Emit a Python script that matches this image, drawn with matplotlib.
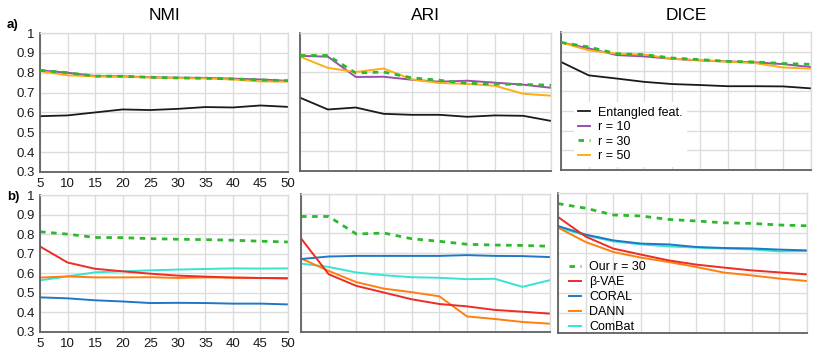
import matplotlib
matplotlib.use("Agg")
import matplotlib.pyplot as plt

plt.rcParams['font.family'] = ['Liberation Sans', 'DejaVu Sans']

x = [5, 10, 15, 20, 25, 30, 35, 40, 45, 50]

# a) ablation over r
nmi_ent = [0.581, 0.585, 0.600, 0.615, 0.612, 0.618, 0.627, 0.625, 0.635, 0.628]
nmi_r10 = [0.812, 0.800, 0.783, 0.782, 0.777, 0.775, 0.774, 0.770, 0.766, 0.759]
nmi_r30 = [0.812, 0.800, 0.783, 0.782, 0.777, 0.774, 0.772, 0.769, 0.764, 0.760]
nmi_r50 = [0.808, 0.787, 0.781, 0.780, 0.776, 0.773, 0.771, 0.766, 0.756, 0.755]

ari_ent = [0.672, 0.612, 0.622, 0.590, 0.585, 0.585, 0.575, 0.582, 0.580, 0.554]
ari_r10 = [0.884, 0.880, 0.777, 0.778, 0.763, 0.753, 0.758, 0.748, 0.738, 0.722]
ari_r30 = [0.886, 0.886, 0.797, 0.802, 0.773, 0.760, 0.745, 0.741, 0.739, 0.735]
ari_r50 = [0.880, 0.823, 0.802, 0.820, 0.765, 0.746, 0.742, 0.732, 0.692, 0.682]

dice_ent = [0.848, 0.780, 0.764, 0.747, 0.736, 0.731, 0.725, 0.725, 0.724, 0.714]
dice_r10 = [0.947, 0.917, 0.883, 0.876, 0.864, 0.856, 0.851, 0.846, 0.837, 0.822]
dice_r30 = [0.947, 0.924, 0.890, 0.885, 0.868, 0.860, 0.851, 0.848, 0.840, 0.836]
dice_r50 = [0.947, 0.907, 0.890, 0.885, 0.864, 0.857, 0.849, 0.842, 0.820, 0.814]

# b) comparison with baselines
nmi_vae = [0.737, 0.655, 0.623, 0.610, 0.598, 0.588, 0.583, 0.578, 0.576, 0.575]
nmi_coral = [0.477, 0.472, 0.462, 0.456, 0.448, 0.449, 0.448, 0.445, 0.445, 0.441]
nmi_dann = [0.578, 0.584, 0.579, 0.579, 0.580, 0.576, 0.579, 0.578, 0.576, 0.573]
nmi_combat = [0.564, 0.584, 0.605, 0.610, 0.615, 0.619, 0.622, 0.625, 0.624, 0.625]

ari_vae = [0.775, 0.593, 0.534, 0.500, 0.466, 0.442, 0.430, 0.412, 0.403, 0.393]
ari_coral = [0.670, 0.683, 0.686, 0.686, 0.686, 0.686, 0.690, 0.686, 0.685, 0.680]
ari_dann = [0.673, 0.610, 0.553, 0.520, 0.502, 0.481, 0.379, 0.366, 0.351, 0.342]
ari_combat = [0.647, 0.630, 0.602, 0.588, 0.578, 0.575, 0.568, 0.570, 0.529, 0.563]

dice_vae = [0.880, 0.782, 0.722, 0.692, 0.663, 0.642, 0.627, 0.613, 0.603, 0.593]
dice_coral = [0.835, 0.792, 0.763, 0.747, 0.743, 0.730, 0.725, 0.723, 0.717, 0.713]
dice_dann = [0.827, 0.755, 0.705, 0.677, 0.655, 0.630, 0.602, 0.588, 0.572, 0.560]
dice_combat = [0.827, 0.788, 0.758, 0.743, 0.733, 0.727, 0.722, 0.718, 0.708, 0.710]

titles = ["NMI", "ARI", "DICE"]
top = [(nmi_ent, nmi_r10, nmi_r30, nmi_r50),
       (ari_ent, ari_r10, ari_r30, ari_r50),
       (dice_ent, dice_r10, dice_r30, dice_r50)]
bottom = [(nmi_r30, nmi_vae, nmi_coral, nmi_dann, nmi_combat),
          (ari_r30, ari_vae, ari_coral, ari_dann, ari_combat),
          (dice_r30, dice_vae, dice_coral, dice_dann, dice_combat)]

c_black = '#1a1a1a'
c_purple = '#9b4fb0'
c_green = '#2db82d'
c_yellow = '#ffad14'
c_red = '#ee2c22'
c_blue = '#1f78c4'
c_orange = '#ff7f0e'
c_cyan = '#38e3d2'

fig = plt.figure(figsize=(8.16, 3.54), dpi=100)

W, H = 816.0, 354.0
def rect(x0, x1, y0, y1):
    return [x0 / W, 1 - y1 / H, (x1 - x0) / W, (y1 - y0) / H]

top_rects = [rect(40, 288, 33, 172), rect(300, 551, 33, 171), rect(561, 811, 32, 170)]
bot_rects = [rect(40, 288, 195, 332), rect(301, 550, 194, 332), rect(558, 807, 193, 333)]

def style(ax, show_ticks):
    ax.set_xlim(5, 50)
    ax.set_ylim(0.3, 1.0)
    ax.set_xticks(x)
    ax.set_yticks([0.3, 0.4, 0.5, 0.6, 0.7, 0.8, 0.9, 1.0])
    ax.grid(True, color='#dcdcdc', lw=1.0)
    ax.set_axisbelow(True)
    for s in ['top', 'right']:
        ax.spines[s].set_color('#dcdcdc')
        ax.spines[s].set_linewidth(1.0)
    for s in ['left', 'bottom']:
        ax.spines[s].set_color('#606060')
        ax.spines[s].set_linewidth(1.3)
    ax.tick_params(length=0, labelsize=9.5, colors='#1a1a1a', pad=4)
    if show_ticks:
        ax.set_yticklabels(['0.3', '0.4', '0.5', '0.6', '0.7', '0.8', '0.9', '1'])
    else:
        ax.set_xticklabels([])
        ax.set_yticklabels([])

for i in range(3):
    ax = fig.add_axes(top_rects[i])
    style(ax, i == 0)
    ent, r10, r30, r50 = top[i]
    ax.plot(x, ent, color=c_black, lw=1.3, label='Entangled feat.')
    ax.plot(x, r10, color=c_purple, lw=1.4, label='r = 10')
    ax.plot(x, r50, color=c_yellow, lw=1.4, label='r = 50', zorder=2)
    ax.plot(x, r30, color=c_green, lw=2.0, ls=(0, (2, 2)), label='r = 30', zorder=3)
    ax.set_title(titles[i], fontsize=12.5, pad=9)
    if i == 2:
        h, l = ax.get_legend_handles_labels()
        order = [0, 1, 3, 2]
        leg = ax.legend([h[k] for k in order], [l[k] for k in order],
                        loc='lower left', bbox_to_anchor=(0.025, -0.02),
                        frameon=True, fontsize=9, handlelength=0.95,
                        handletextpad=0.7, labelspacing=0.2, borderpad=0.35,
                        fancybox=False)
        leg.get_frame().set_edgecolor('none')
        leg.get_frame().set_facecolor('white')
        leg.get_frame().set_alpha(1.0)

for i in range(3):
    ax = fig.add_axes(bot_rects[i])
    style(ax, i == 0)
    r30, vae, coral, dann, combat = bottom[i]
    ax.plot(x, combat, color=c_cyan, lw=1.4, label='ComBat')
    ax.plot(x, dann, color=c_orange, lw=1.4, label='DANN')
    ax.plot(x, coral, color=c_blue, lw=1.4, label='CORAL')
    ax.plot(x, vae, color=c_red, lw=1.4, label='β-VAE')
    ax.plot(x, r30, color=c_green, lw=2.0, ls=(0, (2, 2)), label='Our r = 30')
    if i == 2:
        h, l = ax.get_legend_handles_labels()
        order = [4, 3, 2, 1, 0]
        ax.legend([h[k] for k in order], [l[k] for k in order],
                  loc='lower left', bbox_to_anchor=(0.0, -0.075),
                  frameon=False, fontsize=9, handlelength=0.95,
                  handletextpad=0.7, labelspacing=0.24, borderpad=0.35)

fig.text(7 / W, 1 - 25 / H, 'a)', fontsize=9.5, fontweight='bold', va='center')
fig.text(7 / W, 1 - 197 / H, 'b)', fontsize=9.5, fontweight='bold', va='center')

fig.savefig('out.png', dpi=100)
